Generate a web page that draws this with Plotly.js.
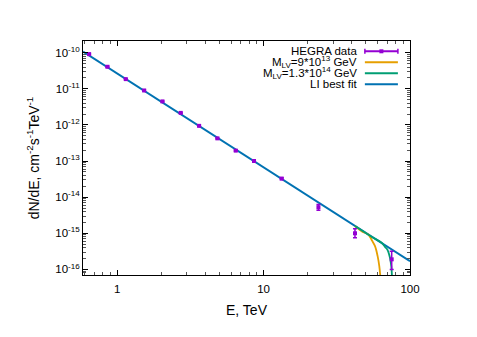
<!DOCTYPE html>
<html>
<head>
<meta charset="utf-8">
<script src="https://cdn.plot.ly/plotly-3.0.1.min.js"></script>
<style>
  body { margin: 0; background: #fff; }
  #chart { width: 477px; height: 337px; }
</style>
</head>
<body>
<div id="chart"></div>
<script>
// HEGRA data points (TeV, cm^-2 s^-1 TeV^-1)
var hegraE = [0.644, 0.859, 1.146, 1.53, 2.04, 2.72, 3.63, 4.84, 6.46, 8.61, 13.3, 23.7, 42.1, 75.0];
var hegraFlux = [9.1e-11, 4.06e-11, 1.85e-11, 8.97e-12, 4.47e-12, 2.15e-12, 9.4e-13, 4.24e-13, 1.94e-13, 1.0e-13, 3.27e-14, 5.26e-15, 1.0e-15, 1.9e-16];
var hegraErrUp = [3e-12, 1.2e-12, 5e-13, 2.5e-13, 1.2e-13, 6e-14, 3e-14, 1.3e-14, 7e-15, 4e-15, 2e-15, 1.04e-15, 3.3e-16, 1.3e-16];
var hegraErrDown = [3e-12, 1.2e-12, 5e-13, 2.5e-13, 1.2e-13, 6e-14, 3e-14, 1.3e-14, 7e-15, 4e-15, 2e-15, 0.9e-15, 2.5e-16, 0.9e-16];

// LI best fit (power law, straight on log-log)
var fitE = [0.585, 100];
var fitFlux = [1.07e-10, 1.69e-16];

// M_LV = 9e13 GeV
var lv1E = [42.1, 47.0, 51.9, 55.0, 57.7, 60.1, 61.7, 62.7];
var lv1Flux = [1.59e-15, 1.12e-15, 9.27e-16, 6.3e-16, 4.4e-16, 2.33e-16, 1.23e-16, 6.5e-17];

// M_LV = 1.3e14 GeV
var lv2E = [42.1, 55.0, 64.0, 67.5, 70.0, 73.0, 74.5, 75.3];
var lv2Flux = [1.59e-15, 7.9e-16, 5.47e-16, 4.2e-16, 3.56e-16, 2.1e-16, 1.23e-16, 6.5e-17];

var yTickVals = [1e-16, 1e-15, 1e-14, 1e-13, 1e-12, 1e-11, 1e-10];
var yTickText = ['10<sup>-16</sup>', '10<sup>-15</sup>', '10<sup>-14</sup>', '10<sup>-13</sup>', '10<sup>-12</sup>', '10<sup>-11</sup>', '10<sup>-10</sup>'];
var xTickVals = [1, 10, 100];
var xTickText = ['1', '10', '100'];

var legendNames = ['HEGRA data', 'M<sub>LV</sub>=9*10<sup>13</sup> GeV', 'M<sub>LV</sub>=1.3*10<sup>14</sup> GeV', 'LI best fit'];

var purple = '#9400d3';
var orange = '#e69f00';
var green = '#009e73';
var blue = '#0072b2';

var hegra = {
  x: hegraE,
  y: hegraFlux,
  type: 'scatter',
  mode: 'markers',
  marker: {symbol: 'square', size: 4, color: purple},
  error_y: {type: 'data', symmetric: false, array: hegraErrUp, arrayminus: hegraErrDown,
    color: purple, thickness: 1.5, width: 2},
  showlegend: false
};

var lv1 = {
  x: lv1E, y: lv1Flux, type: 'scatter', mode: 'lines',
  line: {color: orange, width: 1.8, shape: 'spline'}, showlegend: false
};

var lv2 = {
  x: lv2E, y: lv2Flux, type: 'scatter', mode: 'lines',
  line: {color: green, width: 1.8, shape: 'spline'}, showlegend: false
};

var fit = {
  x: fitE, y: fitFlux, type: 'scatter', mode: 'lines',
  line: {color: blue, width: 2}, showlegend: false
};

// hand-made gnuplot style key: text right, sample left of border
var keyX = 0.844, s0 = 0.862, s1 = 0.963;
var rowsY = [0.956, 0.909, 0.862, 0.815];
var rowColors = [purple, orange, green, blue];
var annotations = [];
var shapes = [];
for (var i = 0; i < legendNames.length; i++) {
  annotations.push({
    xref: 'paper', yref: 'paper', x: keyX, y: rowsY[i],
    xanchor: 'right', yanchor: 'middle', showarrow: false,
    text: legendNames[i], font: {size: 11.5, color: '#000'}
  });
  shapes.push({
    type: 'line', xref: 'paper', yref: 'paper',
    x0: s0, x1: s1, y0: rowsY[i], y1: rowsY[i],
    line: {color: rowColors[i], width: 2}
  });
}
// error bar caps and point for HEGRA key sample
[s0, s1].forEach(function(px) {
  shapes.push({
    type: 'line', xref: 'paper', yref: 'paper', ysizemode: 'pixel', yanchor: rowsY[0],
    x0: px, x1: px, y0: -2.5, y1: 2.5, line: {color: purple, width: 1.5}
  });
});
shapes.push({
  type: 'rect', xref: 'paper', yref: 'paper', xsizemode: 'pixel', ysizemode: 'pixel',
  xanchor: (s0 + s1) / 2, yanchor: rowsY[0], x0: -2, x1: 2, y0: -2, y1: 2,
  fillcolor: purple, line: {width: 0}
});

var layout = {
  width: 477,
  height: 337,
  margin: {l: 83, r: 67, t: 41, b: 62},
  paper_bgcolor: '#fff',
  plot_bgcolor: '#fff',
  font: {family: 'Liberation Sans, Arial, sans-serif', size: 11.5, color: '#000'},
  showlegend: false,
  xaxis: {
    type: 'log',
    range: [Math.log10(0.585), 2],
    tickvals: xTickVals,
    ticktext: xTickText,
    ticks: 'inside',
    ticklen: 5,
    tickcolor: '#000',
    ticklabelstandoff: 3,
    minor: {ticks: 'inside', ticklen: 3, dtick: 'D1', tickcolor: '#555'},
    showline: true,
    linecolor: '#000',
    linewidth: 1,
    mirror: 'ticks',
    showgrid: false,
    zeroline: false,
    title: {text: 'E, TeV', standoff: 11}
  },
  yaxis: {
    type: 'log',
    range: [Math.log10(7e-17), Math.log10(2.1e-10)],
    tickvals: yTickVals,
    ticktext: yTickText,
    ticks: 'inside',
    ticklen: 5,
    tickcolor: '#000',
    minor: {ticks: 'inside', ticklen: 3, dtick: 'D1', tickcolor: '#555'},
    showline: true,
    linecolor: '#000',
    linewidth: 1,
    mirror: 'ticks',
    showgrid: false,
    zeroline: false,
    title: {text: 'dN/dE, cm<sup>-2</sup>s<sup>-1</sup>TeV<sup>-1</sup>', standoff: 12}
  },
  annotations: annotations,
  shapes: shapes
};

Plotly.newPlot('chart', [fit, lv1, lv2, hegra], layout, {displayModeBar: false, staticPlot: true});
</script>
</body>
</html>
